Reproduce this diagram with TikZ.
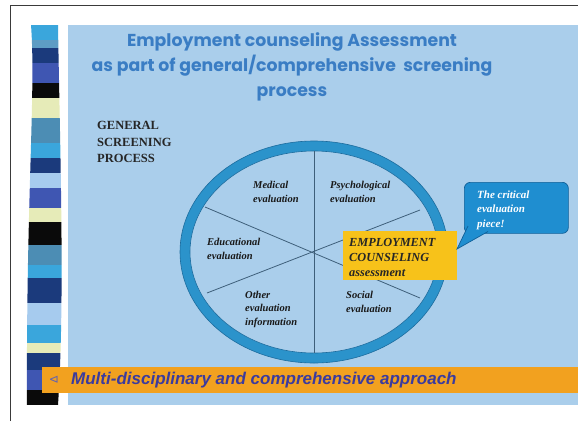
\documentclass[tikz,border=0pt]{standalone}
\usepackage{fontspec}
\setmainfont{Liberation Serif}
\newfontfamily\titlefont{Poppins}
\newfontfamily\barfont{Liberation Sans}
\newfontfamily\symfont{DejaVu Sans}
\definecolor{bg}{HTML}{AACEEB}
\definecolor{titleblue}{HTML}{3A7DC4}
\definecolor{ring}{HTML}{2B93CB}
\definecolor{ringedge}{HTML}{1C6C9E}
\definecolor{spoke}{HTML}{3E5F7A}
\definecolor{yellowbox}{HTML}{F7C21A}
\definecolor{callout}{HTML}{1F8ED0}
\definecolor{calloutedge}{HTML}{0F5F98}
\definecolor{orangebar}{HTML}{F2A11F}
\definecolor{bartext}{HTML}{3B3B9E}
\definecolor{frame}{HTML}{3A3A3A}
\definecolor{sA}{HTML}{3AA6DC}
\definecolor{sB}{HTML}{5E9CC4}
\definecolor{sC}{HTML}{1B3A7C}
\definecolor{sD}{HTML}{3F56B2}
\definecolor{sK}{HTML}{0A0A0A}
\definecolor{sY}{HTML}{E6EBB8}
\definecolor{sT}{HTML}{4C8DB4}
\definecolor{sL}{HTML}{A6CBEE}
\tikzset{
  evallabel/.style={font=\fontsize{10.5}{13.5}\selectfont\bfseries\itshape, align=left, anchor=west, inner sep=0pt, text=black!90},
  headlabel/.style={font=\fontsize{12.5}{16.5}\selectfont\bfseries, align=left, anchor=west, inner sep=0pt, text=black!85},
  spokeline/.style={draw=spoke, line width=0.8pt},
}
\begin{document}
\begin{tikzpicture}[x=1pt,y=-1pt]
\useasboundingbox (0,0) rectangle (578,421);
\fill[white] (0,0) rectangle (578,421);
% frame
\draw[frame, line width=0.9pt] (10,421) -- (10,5) -- (578,5);
% background
\fill[bg] (68,25) rectangle (578,405);
% stripes
\begin{scope}
\clip (31,25) .. controls (36,90) and (26,200) .. (27,405) -- (58,405) .. controls (65,300) and (60,150) .. (58,25) -- cycle;
\foreach \a/\b/\c in {25/40/sA,40/48/sB,48/63/sC,63/83/sD,83/98/sK,98/118/sY,118/143/sT,143/158/sA,158/173/sC,173/188/sL,188/208/sD,208/222/sY,222/245/sK,245/265/sT,265/278/sA,278/303/sC,303/325/sL,325/343/sA,343/353/sY,353/370/sC,370/390/sD,390/405/sK}
  \fill[\c] (20,\a) rectangle (70,\b);
\end{scope}
% title
\node[font=\titlefont\fontsize{17.3}{25}\selectfont\bfseries, text=titleblue, align=center, inner sep=0pt] (title) at (292,67)
  {Employment counseling Assessment\\as part of general/comprehensive\ \ screening\\process};
\node[headlabel] (gsp) at (97,142) {GENERAL\\SCREENING\\PROCESS};
% ring
\coordinate (c) at (314,252);
\fill[ring, draw=ringedge, line width=0.6pt] (c) ellipse [x radius=134, y radius=111];
\fill[bg, draw=ringedge, line width=0.6pt] (c) ellipse [x radius=124, y radius=101];
% spokes
\path (c) ++(0,-101) coordinate (vtop) (c) ++(0,101) coordinate (vbot);
\path (c) ++(-109,-45) coordinate (d1a) (c) ++(106,46) coordinate (d1b);
\path (c) ++(-107,41) coordinate (d2a) (c) ++(106,-42) coordinate (d2b);
\draw[spokeline] (vtop) -- (vbot);
\draw[spokeline] (d1a) -- (d1b);
\draw[spokeline] (d2a) -- (d2b);
% labels
\node[evallabel] (med) at (253,192) {Medical\\evaluation};
\node[evallabel] (psy) at (330,192) {Psychological\\evaluation};
\node[evallabel] (edu) at (207,249) {Educational\\evaluation};
\node[evallabel] (oth) at (245,309) {Other\\evaluation\\information};
\node[evallabel] (soc) at (346,302) {Social\\evaluation};
% yellow box
\node[fill=yellowbox, minimum width=114pt, minimum height=49pt, anchor=north west, inner sep=0pt] (emp) at (343,231) {};
\node[font=\fontsize{12.3}{15}\selectfont\bfseries\itshape, align=left, anchor=west, inner sep=0pt, text=black!85] (emptext) at (349,257) {EMPLOYMENT\\COUNSELING\\assessment};
% callout
\node[fill=callout, draw=calloutedge, line width=0.7pt, rounded corners=6pt, minimum width=104pt, minimum height=51pt, anchor=north west, inner sep=0pt] (call) at (464,182) {};
\coordinate (t1) at (468,226);
\coordinate (t2) at (488,231.5);
\coordinate (tip) at (457,249);
\fill[callout] (t1) -- (tip) -- (t2) -- cycle;
\draw[calloutedge, line width=0.7pt] (t1) -- (tip) -- (t2);
\node[font=\fontsize{11}{14.5}\selectfont\bfseries\itshape, text=white, align=left, anchor=west, inner sep=0pt] (calltext) at (477,210) {The critical\\evaluation\\piece!};
% orange bar
\fill[orangebar] (42,367) rectangle (578,393);
\node[font=\symfont\fontsize{12}{12}\selectfont, text=bartext!80, inner sep=0pt] (bullet) at (54,380) {⊲};
\node[font=\barfont\fontsize{17}{20}\selectfont\bfseries\itshape, text=bartext, anchor=west, inner sep=0pt] (bar) at (71,380) {Multi-disciplinary and comprehensive approach};
\end{tikzpicture}
\end{document}
